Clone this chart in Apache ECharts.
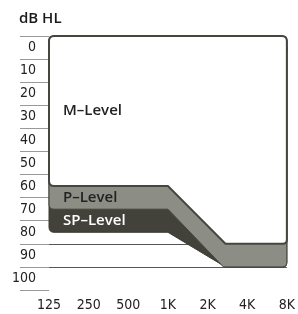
<!DOCTYPE html>
<html lang="en">
  <head>
    <meta charset="UTF-8" />
    <title>hearing levels</title>
    <script src="https://cdn.jsdelivr.net/npm/echarts@6/dist/echarts.min.js"></script>
    <style>
      html, body { margin: 0; padding: 0; background: #ffffff; }
    </style>
  </head>
  <body>
    <div id="levels" style="width: 298px; height: 314px"></div>
    <script>
      var freqLabels = ['125', '250', '500', '1K', '2K', '4K', '8K'];
      var dbLabels = ['0', '10', '20', '30', '40', '50', '60', '70', '80', '90', '100'];
      // lower edge of each level: [octaves above 125 Hz, dB HL]
      var mLevel = [[0, 60], [3, 60], [4.45, 85], [6, 85]];
      var pLevel = [[0, 70], [3, 70], [4.4, 95], [6, 95]];
      var spLevel = [[0, 80], [3, 80], [4.45, 95], [6, 95]];
      var levelNames = ['M–Level', 'P–Level', 'SP–Level'];

      var DB_MIN = -5;
      var DB_MAX = 105;
      var axisFont = "'DejaVu Sans Condensed', sans-serif";
      var labelFont = "'Open Sans', sans-serif";

      function towards(p, q, r) {
        var dx = q[0] - p[0];
        var dy = q[1] - p[1];
        var len = Math.sqrt(dx * dx + dy * dy) || 1;
        var t = Math.min(r, len / 2) / len;
        return [p[0] + dx * t, p[1] + dy * t];
      }

      // polygon path with rounded corners where radius > 0
      function roundPath(pts, radii) {
        var n = pts.length;
        var last = pts[n - 1];
        var d = 'M' + (last[0] + pts[0][0]) / 2 + ',' + (last[1] + pts[0][1]) / 2;
        for (var i = 0; i < n; i++) {
          var p = pts[i];
          var r = radii[i];
          if (!r) {
            d += ' L' + p[0] + ',' + p[1];
          } else {
            var a = towards(p, pts[(i - 1 + n) % n], r);
            var b = towards(p, pts[(i + 1) % n], r);
            d += ' L' + a[0] + ',' + a[1] + ' Q' + p[0] + ',' + p[1] + ' ' + b[0] + ',' + b[1];
          }
        }
        return d + ' Z';
      }

      function levelSeries(name, edge, prevBottom, fill, stroke, lw, textColor) {
        return {
          type: 'custom',
          name: name,
          xAxisIndex: 0,
          yAxisIndex: 1,
          silent: true,
          data: [[0, edge[0][1]]],
          renderItem: function (params, api) {
            var poly = [[0, DB_MIN], [6, DB_MIN]].concat(edge.slice().reverse());
            var pts = poly.map(function (p) {
              return api.coord(p);
            });
            var radii = poly.map(function (p, i) {
              if (i === 2) return 4;
              return i < 2 || i === poly.length - 1 ? 5 : 0;
            });
            var labelY = api.coord([0, (prevBottom + edge[0][1]) / 2])[1];
            return {
              type: 'group',
              children: [
                {
                  type: 'path',
                  shape: { pathData: roundPath(pts, radii) },
                  style: { fill: fill, stroke: stroke, lineWidth: lw }
                },
                {
                  type: 'text',
                  x: pts[0][0] + 14,
                  y: labelY,
                  style: {
                    text: name,
                    fill: textColor,
                    font: '600 15px ' + labelFont,
                    verticalAlign: 'middle'
                  }
                }
              ]
            };
          }
        };
      }

      var chart = echarts.init(document.getElementById('levels'));
      chart.setOption({
        animation: false,
        title: {
          text: 'dB HL',
          left: 19,
          top: 11,
          padding: 0,
          textStyle: { fontFamily: labelFont, fontSize: 15, fontWeight: 600, color: '#1a1a1a' }
        },
        grid: { left: 49, right: 10, top: 36, bottom: 24 },
        xAxis: {
          type: 'value',
          min: 0,
          max: 6,
          interval: 1,
          offset: 2,
          axisLine: { lineStyle: { color: '#777', width: 1 } },
          axisTick: { show: true, length: 4, lineStyle: { color: '#777' } },
          splitLine: { show: false },
          axisLabel: {
            margin: 6,
            color: '#222',
            fontSize: 14,
            fontFamily: axisFont,
            formatter: function (v) {
              return freqLabels[v];
            }
          }
        },
        yAxis: [
          {
            type: 'category',
            data: dbLabels,
            inverse: true,
            boundaryGap: true,
            offset: 6,
            axisLine: { show: false },
            axisTick: { show: true, length: 29, lineStyle: { color: '#999' } },
            splitLine: { show: true, showMinLine: false, showMaxLine: false, lineStyle: { color: '#555' } },
            axisLabel: { margin: 7, color: '#222', fontSize: 14, fontFamily: axisFont }
          },
          {
            type: 'value',
            min: DB_MIN,
            max: DB_MAX,
            inverse: true,
            show: false,
            splitLine: { show: false }
          }
        ],
        series: [
          levelSeries(levelNames[2], spLevel, pLevel[0][1], '#42423b', '#3a3a34', 1, '#ffffff'),
          levelSeries(levelNames[1], pLevel, mLevel[0][1], '#8c8d85', '#45453f', 1, '#222222'),
          levelSeries(levelNames[0], mLevel, DB_MIN, '#ffffff', '#46463f', 2, '#222222')
        ]
      });
    </script>
  </body>
</html>
